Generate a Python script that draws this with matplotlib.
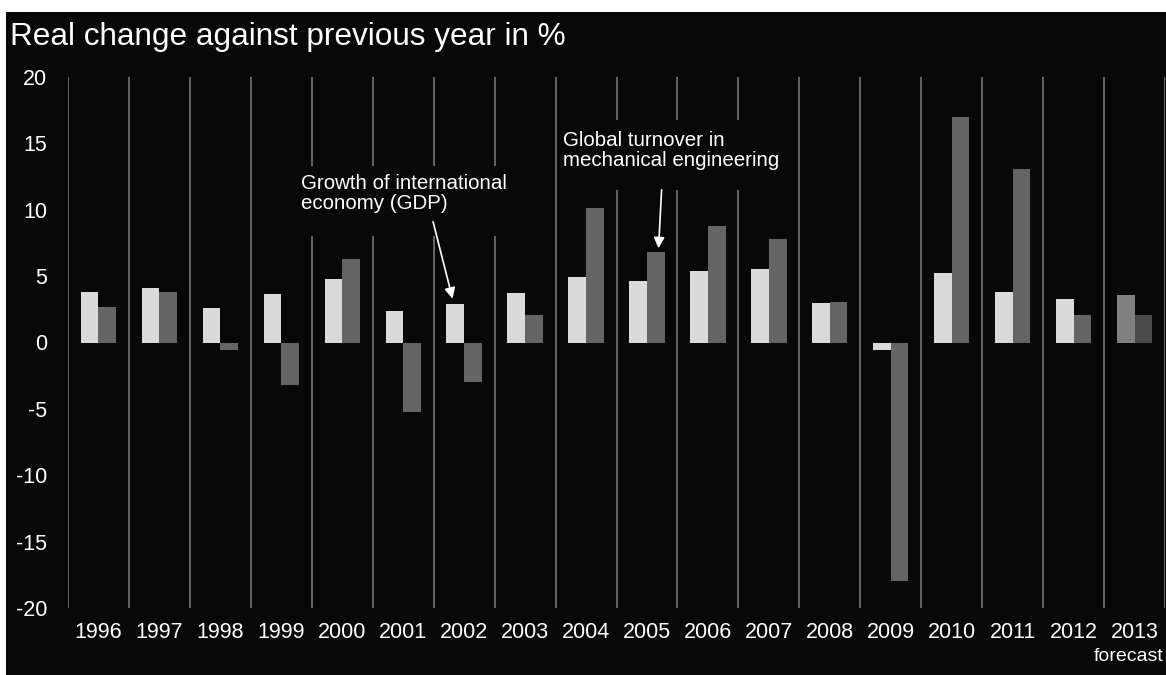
import numpy as np
import matplotlib
matplotlib.use('Agg')
import matplotlib.pyplot as plt
import matplotlib.transforms as mtransforms
from matplotlib.patches import Rectangle

plt.rcParams['font.family'] = ['Liberation Sans', 'DejaVu Sans']

years = ['1996', '1997', '1998', '1999', '2000', '2001', '2002', '2003', '2004',
         '2005', '2006', '2007', '2008', '2009', '2010', '2011', '2012', '2013']
gdp = [3.8, 4.1, 2.6, 3.65, 4.8, 2.35, 2.9, 3.75, 4.9,
       4.6, 5.35, 5.5, 2.95, -0.55, 5.25, 3.8, 3.25, 3.6]
turnover = [2.7, 3.8, -0.55, -3.2, 6.3, -5.2, -3.0, 2.1, 10.1,
            6.8, 8.8, 7.8, 3.05, -18.0, 17.0, 13.1, 2.05, 2.05]
yticks = [20, 15, 10, 5, 0, -5, -10, -15, -20]

bg = '#080808'
c_gdp = ['#dadada'] * (len(years) - 1) + ['#808080']
c_turn = ['#646464'] * (len(years) - 1) + ['#4a4a4a']

fig = plt.figure(figsize=(11.66, 6.75), dpi=100)
fig.patch.set_facecolor('white')
fig.patches.append(Rectangle((6 / 1166, 0), 1, 1 - 12 / 675, transform=fig.transFigure,
                             facecolor=bg, edgecolor='none', zorder=-10))

ax = fig.add_axes([68 / 1166, 1 - 608 / 675, (1165 - 68) / 1166, (608 - 77) / 675])
ax.set_facecolor(bg)

x = np.arange(len(years))
w = 0.29
ax.bar(x - w / 2, gdp, w, color=c_gdp, linewidth=0, zorder=2)
ax.bar(x + w / 2, turnover, w, color=c_turn, linewidth=0, zorder=2)

# year separators
for xv in np.arange(len(years) + 1) - 0.5:
    ax.axvline(xv, color='#7f7f7f', lw=1.1, zorder=1)

ax.set_xlim(-0.5, len(years) - 0.5)
ax.set_ylim(-20, 20)
ax.set_yticks(yticks)
ax.set_yticklabels([str(t) for t in yticks])
ax.set_xticks(x)
ax.set_xticklabels(years)
ax.tick_params(axis='y', length=0, pad=15, labelsize=15.5, colors='white')
ax.tick_params(axis='x', length=0, pad=10, labelsize=15.5, colors='white')
for s in ax.spines.values():
    s.set_visible(False)

trans = mtransforms.blended_transform_factory(ax.transData, ax.transAxes)
ax.text(len(years) - 0.53, -0.091, 'forecast', transform=trans, ha='right', va='center',
        color='white', fontsize=14)

fig.text(10 / 1166, 1 - 37 / 675, 'Real change against previous year in %', color='white',
         fontsize=22.7, va='center', ha='left')

# black blocks behind the labels (separators are cut there)
ax.add_patch(Rectangle((3.31, 8.05), 3.48, 5.28, facecolor=bg, edgecolor='none', zorder=1.5))
ax.add_patch(Rectangle((7.54, 11.47), 3.76, 5.27, facecolor=bg, edgecolor='none', zorder=1.5))

ax.text(3.33, 12.7, 'Growth of international\neconomy (GDP)', color='white', fontsize=14.8,
        ha='left', va='top', zorder=3, linespacing=1.05)
ax.annotate('', xy=(5.81, 3.3), xytext=(5.49, 9.1),
            arrowprops=dict(arrowstyle='-|>', color='white', lw=1.2, mutation_scale=16,
                            shrinkA=0, shrinkB=0), zorder=4)
ax.text(7.62, 15.95, 'Global turnover in\nmechanical engineering', color='white', fontsize=14.8,
        ha='left', va='top', zorder=3, linespacing=1.05)
ax.annotate('', xy=(9.19, 7.1), xytext=(9.24, 11.5),
            arrowprops=dict(arrowstyle='-|>', color='white', lw=1.2, mutation_scale=16,
                            shrinkA=0, shrinkB=0), zorder=4)

fig.savefig('out.png', dpi=100, facecolor=fig.get_facecolor())
